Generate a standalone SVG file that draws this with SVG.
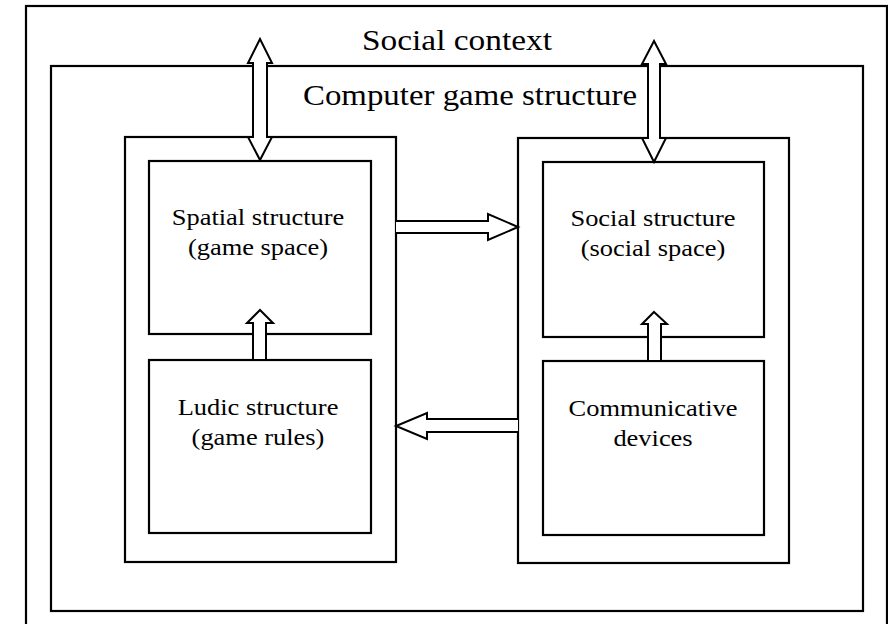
<svg xmlns="http://www.w3.org/2000/svg" width="888" height="624" viewBox="0 0 888 624">
<style>
.box{fill:none;stroke:#000;stroke-width:2.2}
.arr{fill:#fff;stroke:#000;stroke-width:2;stroke-linejoin:miter}
.t{font-family:"Liberation Serif","Times New Roman",serif;fill:#000;text-anchor:middle}
.big{font-size:29px}
.mid{font-size:23px}
</style>
<rect width="888" height="624" fill="#fff"/>
<g id="social-context">
<rect class="box" x="26" y="6" width="861" height="660"/>
<text class="t big" x="457" y="50" textLength="190" lengthAdjust="spacingAndGlyphs">Social context</text>
</g>
<g id="computer-game-structure">
<rect class="box" x="51" y="66" width="812" height="545"/>
<text class="t big" x="470" y="105" textLength="334" lengthAdjust="spacingAndGlyphs">Computer game structure</text>
</g>
<g id="left-column">
<rect class="box" x="125" y="137" width="271" height="425"/>
</g>
<g id="right-column">
<rect class="box" x="518" y="138" width="271" height="425"/>
</g>
<g id="spatial-structure">
<rect class="box" x="149" y="161" width="222" height="173"/>
<g transform="translate(258,0) scale(1.15,1)">
<text class="t mid" x="0" y="225">Spatial structure</text>
<text class="t mid" x="0" y="255">(game space)</text>
</g>
</g>
<g id="ludic-structure">
<rect class="box" x="149" y="360" width="222" height="173"/>
<g transform="translate(258,0) scale(1.15,1)">
<text class="t mid" x="0" y="415">Ludic structure</text>
<text class="t mid" x="0" y="445">(game rules)</text>
</g>
</g>
<g id="social-structure">
<rect class="box" x="543" y="162" width="221" height="175"/>
<g transform="translate(653,0) scale(1.15,1)">
<text class="t mid" x="0" y="226">Social structure</text>
<text class="t mid" x="0" y="256">(social space)</text>
</g>
</g>
<g id="communicative-devices">
<rect class="box" x="543" y="361" width="221" height="174"/>
<g transform="translate(653,0) scale(1.15,1)">
<text class="t mid" x="0" y="416">Communicative</text>
<text class="t mid" x="0" y="446">devices</text>
</g>
</g>
<g id="connectors">
<path class="arr" d="M260,39 L248,63 L253,63 L253,137 L248,137 L260,160 L272,137 L267,137 L267,63 L272,63 Z"/>
<path class="arr" d="M654,41 L642,64 L648,64 L648,138 L642,138 L654,162 L666,138 L660,138 L660,64 L666,64 Z"/>
<path class="arr" d="M396,221 L488,221 L488,214 L518,227 L488,240 L488,233 L396,233"/>
<path class="arr" d="M518,419 L427,419 L427,413 L396,426 L427,439 L427,432 L518,432"/>
<path class="arr" d="M260,310 L273,323 L266,323 L266,360 L253,360 L253,323 L247,323 Z"/>
<path class="arr" d="M654,312 L667,324 L661,324 L661,361 L648,361 L648,324 L642,324 Z"/>
</g>
</svg>
